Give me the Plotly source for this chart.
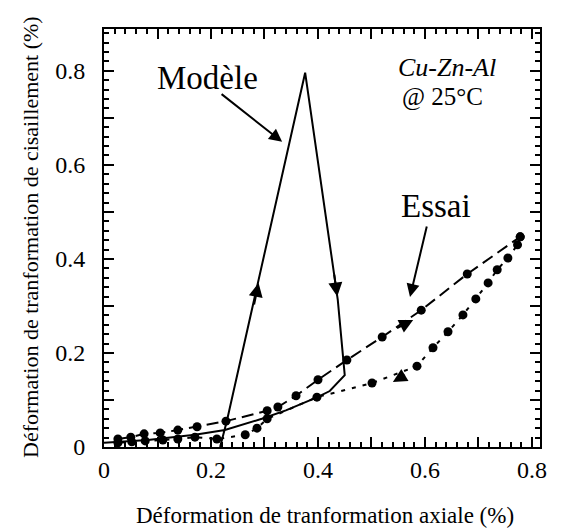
import plotly.graph_objects as go

# ---- data ----
essai_load_x = [0.026, 0.050, 0.075, 0.105, 0.138, 0.174, 0.228, 0.305, 0.325, 0.359, 0.400, 0.454, 0.520, 0.593, 0.679, 0.778]
essai_load_y = [0.017, 0.021, 0.028, 0.030, 0.036, 0.043, 0.055, 0.077, 0.085, 0.109, 0.143, 0.185, 0.234, 0.291, 0.368, 0.447]

essai_unload_x = [0.778, 0.773, 0.755, 0.735, 0.718, 0.695, 0.671, 0.643, 0.615, 0.585, 0.501, 0.398, 0.305, 0.286, 0.264, 0.211, 0.170, 0.138, 0.110, 0.077, 0.052, 0.026]
essai_unload_y = [0.447, 0.430, 0.402, 0.377, 0.349, 0.315, 0.281, 0.245, 0.211, 0.172, 0.136, 0.106, 0.060, 0.040, 0.026, 0.017, 0.021, 0.017, 0.015, 0.013, 0.011, 0.009]

model_x = [0.217, 0.230, 0.376, 0.437, 0.450, 0.422, 0.399, 0.340, 0.295, 0.226, 0.170, 0.082, 0.0]
model_y = [0.0, 0.057, 0.796, 0.313, 0.153, 0.119, 0.106, 0.078, 0.060, 0.036, 0.026, 0.015, 0.009]

major_ticks = [0, 0.1, 0.2, 0.3, 0.4, 0.5, 0.6, 0.7, 0.8]
x_ticktext = ["0", " ", "0.2", " ", "0.4", " ", "0.6", " ", "0.8"]
y_ticktext = ["0", " ", "0.2", " ", "0.4", " ", "0.6", " ", "0.8"]

X_RANGE = [0, 0.815]
Y_RANGE = [0, 0.889]

fig = go.Figure()

fig.add_trace(go.Scatter(x=model_x, y=model_y, mode="lines",
                         line=dict(color="black", width=2), showlegend=False))
fig.add_trace(go.Scatter(x=essai_load_x, y=essai_load_y, mode="lines+markers",
                         line=dict(color="black", width=2, dash="12px,6px"),
                         marker=dict(color="black", size=9), showlegend=False))
fig.add_trace(go.Scatter(x=essai_unload_x, y=essai_unload_y, mode="lines+markers",
                         line=dict(color="black", width=2, dash="4px,7px"),
                         marker=dict(color="black", size=9), showlegend=False))

serif = "Liberation Serif"
NBSP = "\u00a0"

# the page body adds an 8px margin, so the figure is 8px smaller than the window
W, H = 553, 521
ml, mr, mt, mb = 96, 21, 21, 82
PX0, PY0, PW, PH = 104, 447, 436, 418   # plot area in window pixels

def px_ann(x, y, text, size, **kw):
    d = dict(xref="paper", yref="paper", x=(x - PX0) / PW, y=(PY0 - y) / PH,
             text=text, showarrow=False, xanchor="center", yanchor="middle",
             font=dict(family=serif, size=size, color="black"))
    d.update(kw)
    return d

ann = []
ann.append(px_ann(207, 78, "Modèle", 33))
ann.append(px_ann(436, 206, "Essai", 33))
ann.append(px_ann(447, 67, "<i>Cu-Zn-Al</i>", 26))
ann.append(px_ann(442, 97, "@ 25°C", 25))
ann.append(px_ann(325, 515, "Déformation de tranformation axiale (%)", 23))
ann.append(px_ann(30, 237, "Déformation de tranformation de cisaillement (%)", 22, textangle=-90))

def arrow(x, y, ax, ay, head=2, size=1.3, width=2):
    return dict(x=x, y=y, ax=ax, ay=ay, xref="x", yref="y", axref="x", ayref="y",
                text="", showarrow=True, arrowhead=head, arrowsize=size, arrowwidth=width,
                arrowcolor="black")

ann.append(arrow(0.333, 0.649, 0.217, 0.753))
ann.append(arrow(0.572, 0.319, 0.604, 0.472))
ann.append(arrow(0.289, 0.349, 0.280, 0.300, size=1.4))
ann.append(arrow(0.436, 0.320, 0.430, 0.370, size=1.4))
ann.append(arrow(0.578, 0.270, 0.545, 0.251, size=1.4))
ann.append(arrow(0.540, 0.138, 0.565, 0.155, size=1.4))

axis_common = dict(showline=True, linecolor="black", linewidth=2, mirror="ticks",
                   ticks="inside", ticklen=10, tickwidth=2, tickcolor="#000000",
                   tickmode="array", tickvals=major_ticks,
                   showgrid=False, zeroline=False,
                   tickfont=dict(family=serif, size=24, color="black"),
                   minor=dict(ticks="inside", ticklen=5, tickwidth=1.5, tickcolor="#000000",
                              dtick=0.02, showgrid=False))

fig.update_layout(
    width=W, height=H,
    margin=dict(l=ml, r=mr, t=mt, b=mb),
    paper_bgcolor="white", plot_bgcolor="white",
    font=dict(family=serif, color="black"),
    xaxis=dict(range=X_RANGE, ticktext=x_ticktext, **axis_common),
    yaxis=dict(range=Y_RANGE, ticktext=[t + NBSP * 2 for t in y_ticktext], **axis_common),
    annotations=ann,
    showlegend=False,
)

fig.write_html("out.html", config={"displayModeBar": False})
